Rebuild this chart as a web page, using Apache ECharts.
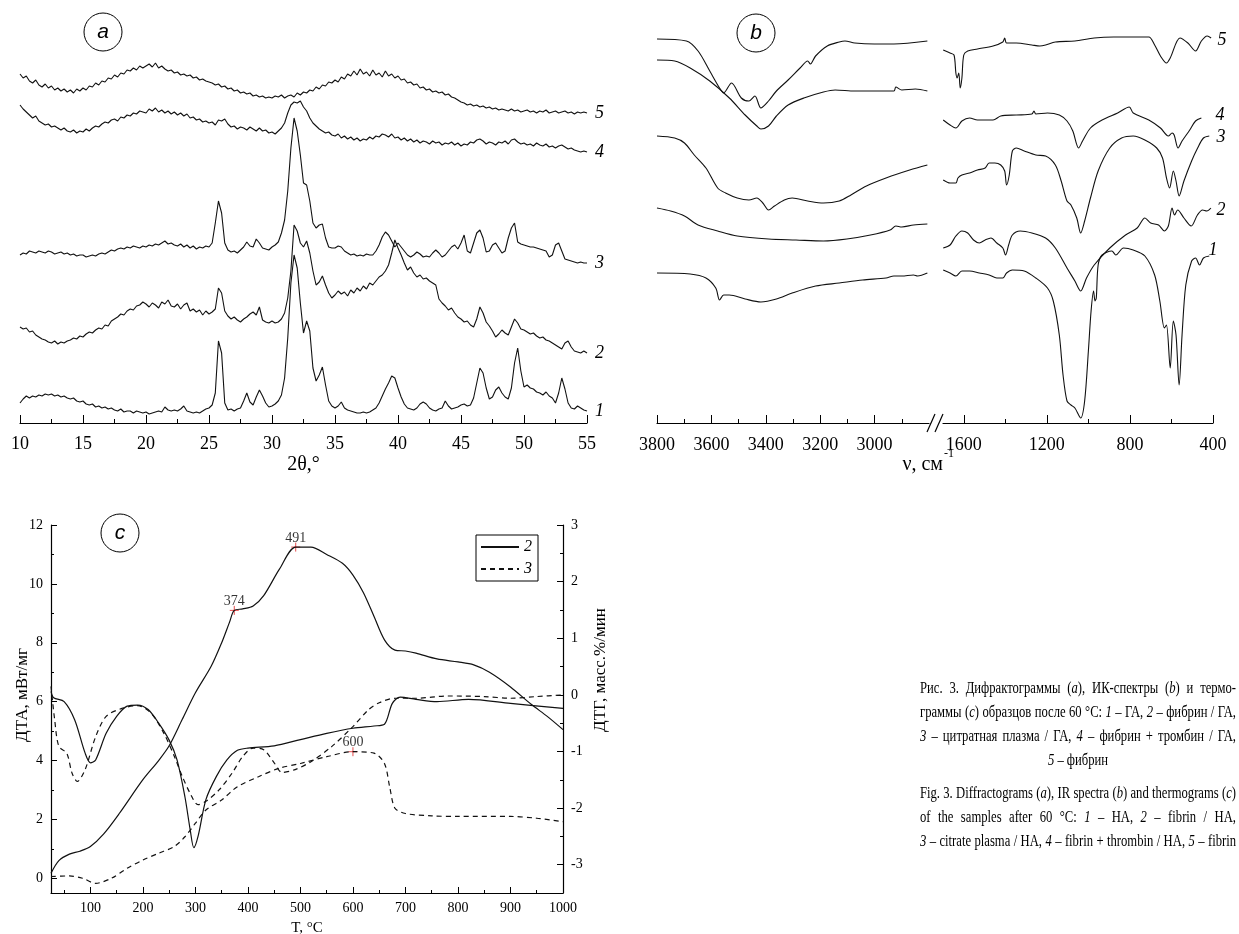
<!DOCTYPE html>
<html>
<head>
<meta charset="utf-8">
<title>Рис. 3</title>
<script src="https://cdn.jsdelivr.net/npm/echarts@6/dist/echarts.min.js"></script>
<style>
  html, body { margin: 0; padding: 0; background: #fff; }
  #main { width: 1239px; height: 934px; }
</style>
</head>
<body>
<div id="main"></div>
<script>
// ---- (a) дифрактограммы: 2θ и интенсивности (усл. ед.)
var twoTheta = [
  10,10.25,10.5,10.75,11,11.25,11.5,11.75,12,12.25,12.5,12.75,13,13.25,13.5,13.75,14,14.25,14.5,14.75,
  15,15.25,15.5,15.75,16,16.25,16.5,16.75,17,17.25,17.5,17.75,18,18.25,18.5,18.75,19,19.25,19.5,19.75,
  20,20.25,20.5,20.75,21,21.25,21.5,21.75,22,22.25,22.5,22.75,23,23.25,23.5,23.75,24,24.25,24.5,24.75,
  25,25.25,25.5,25.75,26,26.25,26.5,26.75,27,27.25,27.5,27.75,28,28.25,28.5,28.75,29,29.25,29.5,29.75,
  30,30.25,30.5,30.75,31,31.25,31.5,31.75,32,32.25,32.5,32.75,33,33.25,33.5,33.75,34,34.25,34.5,34.75,
  35,35.25,35.5,35.75,36,36.25,36.5,36.75,37,37.25,37.5,37.75,38,38.25,38.5,38.75,39,39.25,39.5,39.75,
  40,40.25,40.5,40.75,41,41.25,41.5,41.75,42,42.25,42.5,42.75,43,43.25,43.5,43.75,44,44.25,44.5,44.75,
  45,45.25,45.5,45.75,46,46.25,46.5,46.75,47,47.25,47.5,47.75,48,48.25,48.5,48.75,49,49.25,49.5,49.75,
  50,50.25,50.5,50.75,51,51.25,51.5,51.75,52,52.25,52.5,52.75,53,53.25,53.5,53.75,54,54.25,54.5,54.75,
  55
];
var xrd1 = [
  20,24,27,25,27,26,28,27,29,28,29,27,28,26,27,25,24,25,22,21,
  22,19,18,19,16,17,15,16,14,15,13,12,14,11,12,12,10,12,11,10,
  11,9,10,11,12,11,16,13,12,13,12,14,17,12,11,10,11,10,12,14,
  15,18,30,82,70,20,13,14,12,14,15,22,30,21,18,26,33,27,20,16,
  17,19,22,28,45,85,140,168,155,120,90,102,92,55,42,48,56,38,22,17,
  15,17,21,15,13,12,11,10,10,11,10,11,13,15,20,27,34,40,47,45,
  35,26,19,15,14,13,15,19,21,19,15,13,12,14,15,22,17,14,15,16,
  18,19,17,18,25,40,55,50,35,24,26,33,36,30,26,24,35,60,75,52,
  36,38,35,34,31,30,28,31,27,25,20,30,45,34,20,15,14,17,15,13,
  12
];
var xrd2 = [
  96,94,95,91,92,88,86,84,83,81,80,82,79,81,80,82,83,85,84,87,
  86,89,91,90,93,95,94,98,97,102,104,106,109,108,112,114,113,117,118,121,
  119,116,120,118,115,121,119,123,117,116,119,114,118,120,112,114,111,113,108,112,
  109,111,114,135,130,112,107,104,106,103,101,104,106,109,111,108,116,103,101,100,
  102,100,101,104,110,125,152,198,192,180,176,182,170,152,138,141,147,138,130,125,
  128,132,129,131,127,133,130,135,132,137,134,140,138,142,146,148,152,158,170,183,
  175,168,160,153,156,150,146,148,144,145,142,140,138,124,120,117,113,115,110,106,
  104,101,102,98,96,104,116,110,101,97,92,86,89,93,90,88,96,104,100,94,
  93,91,89,90,87,85,86,83,82,80,78,76,74,80,82,76,72,71,70,72,
  70
];
var xrd3 = [
  168,170,169,172,171,170,172,171,170,172,171,169,170,171,169,170,168,169,167,168,
  168,166,167,168,167,169,170,169,171,173,172,174,175,174,176,175,177,176,175,177,
  176,178,177,179,178,180,182,179,180,178,177,179,176,178,175,177,174,176,175,177,
  176,180,200,222,210,180,173,171,172,170,173,176,181,177,176,184,180,175,174,173,
  176,178,181,190,203,232,275,305,292,268,240,238,222,200,195,198,199,185,176,175,
  175,177,176,172,170,168,169,167,168,167,169,168,168,172,178,186,191,188,182,176,
  180,176,172,168,166,168,171,169,166,167,166,170,173,170,166,168,172,176,178,174,
  180,188,172,170,180,190,193,185,171,172,178,180,175,170,172,185,195,200,181,179,
  178,177,176,176,175,174,173,172,166,168,178,180,172,164,163,162,161,160,161,160,
  160
];
var xrd4 = [
  318,314,311,308,305,307,302,300,298,299,296,297,295,293,295,292,291,293,290,292,
  291,294,292,295,297,296,299,301,300,303,304,302,306,305,308,307,310,309,312,311,
  310,314,312,315,311,313,310,312,309,311,308,310,307,309,305,306,303,304,301,302,
  300,301,298,303,302,304,299,296,297,294,296,295,293,296,294,292,295,292,293,290,
  291,289,292,295,300,310,318,321,320,322,316,312,305,300,297,294,292,290,291,288,
  287,289,285,287,284,286,283,285,282,284,283,286,284,287,286,289,288,286,289,285,
  286,283,285,282,284,281,283,280,282,281,279,282,280,281,278,280,279,281,278,280,
  277,279,278,281,280,283,284,282,279,281,280,278,281,280,282,279,283,284,281,279,
  280,278,279,277,280,278,277,279,276,277,275,277,278,276,274,275,273,272,271,272,
  271
];
var xrd5 = [
  349,345,347,342,340,343,338,336,339,335,337,333,335,332,334,331,333,330,334,332,
  335,333,337,336,340,338,342,341,345,344,348,346,350,349,353,352,355,353,357,355,
  357,359,356,360,355,357,354,352,353,350,351,348,349,347,348,345,346,343,344,342,
  341,340,338,339,336,337,334,335,332,333,330,331,329,330,327,328,326,327,325,326,
  325,327,326,328,325,327,328,326,330,328,331,330,333,332,336,334,338,337,341,340,
  343,341,346,344,349,347,352,348,354,349,351,347,353,348,350,346,352,347,349,345,
  347,343,344,340,341,338,339,335,336,333,334,331,332,330,331,328,329,326,325,323,
  321,320,318,319,317,318,316,317,315,316,314,315,313,314,313,312,314,312,313,311,
  312,313,311,312,310,312,311,313,310,311,312,310,311,312,310,311,309,311,310,311,
  310
];

// ---- (b) ИК-спектры: [ν, см-1 ; пропускание, усл. ед.]
var ir5Left = [[3800,384],[3692,382],[3649,372],[3606,352],[3570,335],[3555,330],[3526,340],[3490,325],[3462,322],[3440,327],[3418,315],[3390,322],[3361,332],[3318,343],[3274,355],[3246,362],[3236,359],[3217,367],[3174,377],[3130,381],[3109,382],[3073,380],[3001,379],[2929,379],[2806,382]];
var ir4Left = [[3800,363],[3735,362],[3678,355],[3606,342],[3534,325],[3476,308],[3433,297],[3418,294],[3390,297],[3361,307],[3318,318],[3260,325],[3188,331],[3145,333],[3073,332],[2929,332],[2922,336],[2900,333],[2850,334],[2806,332]];
var ir3Left = [[3800,287],[3735,285],[3699,280],[3663,268],[3620,255],[3577,235],[3548,230],[3505,225],[3462,223],[3433,225],[3411,220],[3390,213],[3368,217],[3332,223],[3303,225],[3246,222],[3188,220],[3130,222],[3087,228],[3030,237],[2958,245],[2871,253],[2806,258]];
var ir2Left = [[3800,215],[3750,212],[3699,207],[3649,198],[3577,192],[3505,187],[3390,184],[3289,183],[3188,182],[3102,184],[3015,188],[2943,193],[2922,197],[2900,196],[2857,198],[2806,199]];
var ir1Left = [[3800,150],[3678,149],[3620,145],[3584,135],[3570,123],[3555,128],[3534,128],[3476,124],[3418,121],[3361,124],[3303,130],[3217,137],[3130,140],[3044,143],[2958,145],[2929,147],[2900,147],[2857,148],[2842,147],[2806,150]];

var ir5Right = [[1699,373],[1666,370],[1647,368],[1638,350],[1632,345],[1624,350],[1617,335],[1609,345],[1600,368],[1581,372],[1534,374],[1459,377],[1412,381],[1403,385],[1394,380],[1347,380],[1272,378],[1234,377],[1206,378],[1159,381],[1065,382],[972,385],[878,386],[784,386],[709,386],[681,378],[653,367],[624,360],[606,365],[559,385],[521,380],[484,372],[456,382],[428,387],[409,385]];
var ir4Right = [[1699,303],[1666,298],[1638,295],[1609,302],[1572,305],[1534,303],[1459,303],[1422,307],[1347,308],[1272,309],[1262,312],[1253,309],[1197,310],[1140,308],[1103,302],[1075,292],[1047,275],[1028,282],[990,295],[934,303],[859,310],[803,316],[784,310],[709,303],[653,295],[615,287],[597,290],[587,288],[568,275],[549,282],[512,293],[484,302],[456,305]];
var ir3Right = [[1699,243],[1666,240],[1638,240],[1628,245],[1609,248],[1572,250],[1534,253],[1497,255],[1478,260],[1450,260],[1422,258],[1403,252],[1394,238],[1381,248],[1366,272],[1347,275],[1309,272],[1253,268],[1206,267],[1159,258],[1131,242],[1103,222],[1084,218],[1056,205],[1037,190],[1018,202],[990,225],[953,252],[897,275],[840,285],[784,287],[728,283],[671,275],[643,265],[624,245],[609,235],[591,252],[578,242],[563,227],[540,242],[503,262],[474,275],[446,285],[418,287]];
var ir2Right = [[1699,175],[1666,178],[1638,187],[1609,192],[1581,190],[1553,183],[1525,180],[1497,183],[1469,185],[1441,180],[1412,175],[1399,168],[1384,178],[1366,188],[1328,192],[1272,190],[1206,185],[1159,175],[1103,155],[1065,142],[1037,132],[1009,145],[972,158],[897,175],[821,188],[765,195],[728,205],[700,200],[662,198],[634,192],[615,197],[597,215],[585,208],[570,213],[540,205],[505,197],[475,208],[450,213],[430,212],[410,215]];
var ir1Right = [[1699,153],[1666,150],[1638,147],[1609,152],[1572,152],[1525,150],[1478,148],[1441,145],[1412,145],[1394,150],[1366,153],[1309,152],[1253,145],[1197,135],[1169,122],[1140,88],[1122,48],[1103,22],[1084,18],[1065,15],[1037,5],[1018,22],[1000,72],[987,112],[975,132],[968,122],[962,125],[953,158],[934,168],[887,172],[868,168],[831,175],[784,173],[728,167],[681,148],[656,122],[634,95],[624,98],[606,55],[591,102],[578,88],[563,38],[549,88],[531,138],[503,162],[484,165],[465,158],[446,165],[418,167]];
var irLabels = ['5', '4', '3', '2', '1'];

// ---- (c) термограммы: [T, °C ; значение]
var dta2 = [[25,0.17],[40,0.6],[60,0.82],[80,0.92],[100,1.08],[125,1.5],[155,2.2],[200,3.35],[230,4.0],[250,4.5],[275,5.4],[300,6.3],[330,7.2],[350,8.0],[365,8.7],[374,9.1],[390,9.15],[410,9.25],[430,9.6],[460,10.5],[491,11.25],[520,11.25],[550,11.0],[580,10.7],[600,10.3],[620,9.7],[640,8.9],[660,8.1],[680,7.75],[700,7.72],[720,7.65],[760,7.45],[800,7.35],[830,7.25],[860,7.0],[900,6.5],[940,5.9],[970,5.5],[1000,5.05]];
var dtg2 = [[25,0.06],[30,-0.05],[50,-0.12],[70,-0.44],[90,-1.03],[100,-1.2],[110,-1.15],[130,-0.68],[150,-0.38],[170,-0.2],[190,-0.18],[210,-0.26],[230,-0.5],[250,-0.8],[265,-1.15],[280,-1.8],[290,-2.38],[297,-2.7],[305,-2.5],[320,-1.85],[340,-1.44],[360,-1.15],[380,-0.98],[400,-0.94],[450,-0.9],[500,-0.79],[550,-0.68],[600,-0.59],[640,-0.55],[660,-0.52],[675,-0.15],[690,-0.04],[720,-0.08],[760,-0.12],[820,-0.08],[900,-0.15],[1000,-0.24]];
var dta3 = [[25,0.06],[60,0.08],[85,0],[110,-0.17],[140,0],[170,0.34],[200,0.62],[230,0.85],[260,1.08],[280,1.41],[300,1.87],[320,2.32],[350,2.66],[380,3.11],[420,3.45],[460,3.74],[500,3.9],[550,4.13],[600,4.3],[640,4.25],[660,3.9],[670,3.1],[680,2.38],[700,2.2],[750,2.12],[800,2.1],[900,2.1],[950,2.04],[1000,1.92]];
var dtg3 = [[25,0.15],[32,-0.44],[40,-0.91],[55,-1.03],[65,-1.38],[75,-1.53],[90,-1.32],[110,-0.74],[130,-0.38],[160,-0.24],[190,-0.19],[215,-0.32],[240,-0.68],[260,-1.09],[275,-1.44],[290,-1.74],[305,-1.94],[320,-1.88],[345,-1.68],[370,-1.38],[390,-1.09],[410,-0.94],[430,-0.97],[450,-1.2],[465,-1.37],[490,-1.32],[520,-1.18],[560,-0.91],[600,-0.56],[630,-0.26],[650,-0.14],[680,-0.06],[720,-0.06],[780,-0.02],[850,-0.03],[900,-0.06],[950,-0.03],[1000,0]];
var peakTemps = [374, 491, 600];
var peakValues = [9.1, 11.25, 4.3];

// ---- подпись
var captionLines = [
  ['Рис. 3. Дифрактограммы ({i|a}), ИК-спектры ({i|b}) и термо-', 'justify'],
  ['граммы ({i|c}) образцов после 60 °C: {i|1} – ГА, {i|2} – фибрин / ГА,', 'justify'],
  ['{i|3} – цитратная плазма / ГА, {i|4} – фибрин + тромбин / ГА,', 'justify'],
  ['{i|5} – фибрин', 'center'],
  ['Fig. 3. Diffractograms ({i|a}), IR spectra ({i|b}) and thermograms ({i|c})', 'justify'],
  ['of the samples after 60 °C: {i|1} – HA, {i|2} – fibrin / HA,', 'justify'],
  ['{i|3} – citrate plasma / HA, {i|4} – fibrin + thrombin / HA, {i|5} – fibrin', 'justify']
];

var serif = 'Liberation Serif';
var ink = '#111';
function plain(v) { return String(v); }

function xrdSeries(vals, label) {
  return {
    type: 'line', xAxisIndex: 0, yAxisIndex: 0, symbol: 'none',
    data: twoTheta.map(function (t, i) { return [t, vals[i]]; }),
    lineStyle: { color: ink, width: 1.1 },
    endLabel: { show: true, formatter: label, distance: 8, color: '#000',
      fontFamily: serif, fontStyle: 'italic', fontSize: 18 }
  };
}
function irSeries(data, side) {
  return {
    type: 'line', xAxisIndex: side ? 3 : 1, yAxisIndex: side ? 2 : 1,
    symbol: 'none', smooth: 0.3, data: data,
    lineStyle: { color: ink, width: 1.1 }
  };
}
function thermo(name, data, yIdx, dashed) {
  return {
    name: name, type: 'line', xAxisIndex: 5, yAxisIndex: yIdx,
    symbol: 'none', smooth: 0.3, data: data, itemStyle: { color: ink },
    lineStyle: { color: ink, width: 1.2, type: dashed ? [5, 4] : 'solid' }
  };
}
function minorAxis(grid, min, max, inverse, ticks, pos, len) {
  return {
    type: 'value', gridIndex: grid, min: min, max: max, inverse: inverse, position: pos,
    axisLine: { show: false, onZero: false },
    axisTick: { inside: true, length: len, customValues: ticks, lineStyle: { color: '#000' } },
    axisLabel: { show: false }, splitLine: { show: false }
  };
}
function mainAxis(grid, min, max, inverse, labels, pos, font, len, margin) {
  return {
    type: 'value', gridIndex: grid, min: min, max: max, inverse: inverse, position: pos,
    axisLine: { onZero: false, lineStyle: { color: '#000', width: 1.2 } },
    axisTick: { inside: true, length: len, customValues: labels, lineStyle: { color: '#000' } },
    axisLabel: { customValues: labels, formatter: plain, color: '#000', fontFamily: serif,
      fontSize: font, margin: margin },
    splitLine: { show: false }
  };
}

// выключка подписи по ширине
var capFont = 16, capScale = 0.79, capLeft = 920, capRight = 1236;
var capY = [689, 713, 737, 761, 794, 818, 842];
var measureCtx = document.createElement('canvas').getContext('2d');
function segWidth(t, italic) {
  measureCtx.font = (italic ? 'italic ' : '') + capFont + 'px "' + serif + '"';
  return measureCtx.measureText(t).width;
}
function richWidth(str) {
  var total = 0, re = /\{i\|([^}]*)\}/g, last = 0, m;
  while ((m = re.exec(str))) {
    total += segWidth(str.slice(last, m.index), false) + segWidth(m[1], true);
    last = re.lastIndex;
  }
  return total + segWidth(str.slice(last), false);
}
function captionLine(str, y, mode) {
  var words = str.split(' ');
  var widths = words.map(function (w) { return richWidth(w) * capScale; });
  var sum = widths.reduce(function (a, b) { return a + b; }, 0);
  var gap = segWidth(' ', false) * capScale;
  if (mode === 'justify') gap = Math.max(1.5, (capRight - capLeft - sum) / (words.length - 1));
  var x = capLeft;
  if (mode === 'center') x = (capLeft + capRight - sum - gap * (words.length - 1)) / 2;
  return words.map(function (w, i) {
    var el = {
      type: 'text', x: x, y: y, scaleX: capScale,
      style: {
        text: w, fill: '#000', fontFamily: serif, fontSize: capFont,
        align: 'left', verticalAlign: 'middle',
        rich: { i: { fontStyle: 'italic', fontFamily: serif, fontSize: capFont, fill: '#000' } }
      }
    };
    x += widths[i] + gap;
    return el;
  });
}
function badge(cx, cy, letter) {
  return [
    { type: 'circle', shape: { cx: cx, cy: cy, r: 19 }, style: { fill: 'none', stroke: '#000', lineWidth: 1 } },
    { type: 'text', x: cx, y: cy, style: { text: letter, fill: '#000', fontFamily: 'Liberation Sans Narrow, Liberation Sans',
      fontStyle: 'italic', fontSize: 21, align: 'center', verticalAlign: 'middle' } }
  ];
}
function plainText(x, y, text, size, align, rot, italic) {
  return { type: 'text', x: x, y: y, rotation: rot || 0,
    style: { text: text, fill: '#000', fontFamily: serif, fontSize: size, fontStyle: italic ? 'italic' : 'normal',
      align: align, verticalAlign: 'middle' } };
}

var xAxA = {
  type: 'value', gridIndex: 0, min: 10, max: 55, interval: 5,
  axisLine: { onZero: false, lineStyle: { color: '#000', width: 1.2 } },
  axisTick: { inside: true, length: 8, lineStyle: { color: '#000' } },
  minorTick: { show: true, splitNumber: 2, length: 4, lineStyle: { color: '#000' } },
  axisLabel: { color: '#000', fontFamily: serif, fontSize: 18, margin: 12 },
  splitLine: { show: false },
  name: '2θ,°', nameLocation: 'middle', nameGap: 32,
  nameTextStyle: { color: '#000', fontFamily: serif, fontSize: 20 }
};

var irLabelPos = [[1222, 40], [1220, 115], [1221, 137], [1221, 210], [1213, 250]];
var graphics = [].concat(
  badge(103, 32, 'a'), badge(756, 33, 'b'), badge(120, 533, 'c'),
  [
    { type: 'line', shape: { x1: 927, y1: 432, x2: 935, y2: 414 }, style: { stroke: '#000', lineWidth: 1.2 } },
    { type: 'line', shape: { x1: 935, y1: 432, x2: 943, y2: 414 }, style: { stroke: '#000', lineWidth: 1.2 } },
    plainText(943, 465, 'ν, см', 20, 'right'),
    plainText(944, 454, '-1', 12, 'left'),
    plainText(23, 695, 'ДТА, мВт/мг', 17, 'center', Math.PI / 2),
    plainText(601, 670, 'ДТГ, масс.%/мин', 17, 'center', Math.PI / 2),
    plainText(307, 928, 'T, °C', 15, 'center')
  ],
  irLabels.map(function (t, i) { return plainText(irLabelPos[i][0], irLabelPos[i][1], t, 18, 'center', 0, true); })
);
captionLines.forEach(function (ln, i) { graphics = graphics.concat(captionLine(ln[0], capY[i], ln[1])); });

var option = {
  animation: false,
  backgroundColor: '#fff',
  grid: [
    { left: 20, top: 23, width: 567, height: 400 },
    { left: 657, top: 22, width: 272, height: 401 },
    { left: 943, top: 22, width: 270, height: 401 },
    { left: 51, top: 525, width: 512, height: 368 }
  ],
  xAxis: [
    xAxA,
    mainAxis(1, 2800, 3800, true, [3000, 3200, 3400, 3600, 3800], 'bottom', 18, 8, 13),
    minorAxis(1, 2800, 3800, true, [2900, 3100, 3300, 3500, 3700], 'bottom', 4),
    mainAxis(2, 400, 1700, true, [400, 800, 1200, 1600], 'bottom', 18, 8, 13),
    minorAxis(2, 400, 1700, true, [600, 1000, 1400], 'bottom', 4),
    mainAxis(3, 25, 1000, false, [100, 200, 300, 400, 500, 600, 700, 800, 900, 1000], 'bottom', 14, 6, 8),
    minorAxis(3, 25, 1000, false, [50, 150, 250, 350, 450, 550, 650, 750, 850, 950], 'bottom', 3)
  ],
  yAxis: [
    { type: 'value', gridIndex: 0, min: 0, max: 400, show: false },
    { type: 'value', gridIndex: 1, min: 0, max: 401, show: false },
    { type: 'value', gridIndex: 2, min: 0, max: 401, show: false },
    mainAxis(3, -0.5, 12, false, [0, 2, 4, 6, 8, 10, 12], 'left', 14, 6, 8),
    minorAxis(3, -0.5, 12, false, [1, 3, 5, 7, 9, 11], 'left', 3),
    mainAxis(3, -3.5, 3, false, [-3, -2, -1, 0, 1, 2, 3], 'right', 14, 6, 8),
    minorAxis(3, -3.5, 3, false, [-2.5, -1.5, -0.5, 0.5, 1.5, 2.5], 'right', 3)
  ],
  legend: {
    orient: 'vertical', left: 476, top: 535, padding: [4, 6, 4, 4],
    itemGap: 6, itemWidth: 38, itemHeight: 14,
    borderColor: '#000', borderWidth: 1,
    itemStyle: { opacity: 0 },
    data: ['2', '3'],
    textStyle: { color: '#000', fontFamily: serif, fontStyle: 'italic', fontSize: 16 }
  },
  series: [
    xrdSeries(xrd1, '1'), xrdSeries(xrd2, '2'), xrdSeries(xrd3, '3'),
    xrdSeries(xrd4, '4'), xrdSeries(xrd5, '5'),
    irSeries(ir5Left, 0), irSeries(ir4Left, 0), irSeries(ir3Left, 0),
    irSeries(ir2Left, 0), irSeries(ir1Left, 0),
    irSeries(ir5Right, 1), irSeries(ir4Right, 1), irSeries(ir3Right, 1),
    irSeries(ir2Right, 1), irSeries(ir1Right, 1),
    thermo('2', dta2, 3, false), thermo('2', dtg2, 5, false),
    thermo('3', dta3, 3, true), thermo('3', dtg3, 5, true),
    {
      type: 'scatter', xAxisIndex: 5, yAxisIndex: 3,
      symbol: 'path://M0 5 L10 5 M5 0 L5 10', symbolSize: 9,
      itemStyle: { color: 'transparent', borderColor: '#e02020', borderWidth: 1 },
      data: peakTemps.map(function (t, i) { return [t, peakValues[i]]; }),
      label: { show: true, position: 'top', distance: 3, offset: [0, 6], color: '#000', fontFamily: serif, fontSize: 14,
        formatter: function (p) { return String(p.value[0]); } }
    }
  ],
  graphic: graphics
};

var chart = echarts.init(document.getElementById('main'));
chart.setOption(option);
</script>
</body>
</html>
